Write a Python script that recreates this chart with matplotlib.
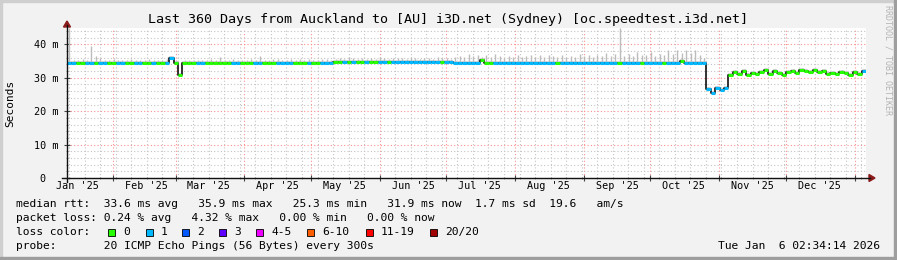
import datetime as dt
import matplotlib
matplotlib.use("Agg")
import matplotlib.pyplot as plt
import matplotlib.dates as mdates
from matplotlib.patches import Rectangle, Polygon
from matplotlib.lines import Line2D
from matplotlib.ticker import MultipleLocator

W, H = 897, 260
BG = "#f2f2f2"
MONO = "DejaVu Sans Mono"

title = "Last 360 Days from Auckland to [AU] i3D.net (Sydney) [oc.speedtest.i3d.net]"
end = dt.datetime(2026, 1, 6, 2, 34, 14)
start = end - dt.timedelta(days=360)
step_days = 2  # one sample every 2 days

# median rtt (ms), one value per sample
median_ms = [
    34.5, 34.5, 34.5, 34.5, 34.5, 34.5, 34.5, 34.5, 34.5, 34.5, 34.5, 34.5, 34.5, 34.5, 34.5,
    34.5, 34.5, 34.5, 34.5, 34.5, 34.5, 34.5, 34.5, 36.0, 34.5, 30.8, 34.5, 34.5, 34.5, 34.5,
    34.5, 34.5, 34.5, 34.5, 34.5, 34.5, 34.5, 34.5, 34.5, 34.5, 34.5, 34.5, 34.5, 34.5, 34.5,
    34.5, 34.5, 34.5, 34.5, 34.5, 34.5, 34.5, 34.5, 34.5, 34.5, 34.5, 34.5, 34.5, 34.5, 34.5,
    34.8, 34.8, 34.8, 34.8, 34.8, 34.8, 34.8, 34.8, 34.8, 34.8, 34.8, 34.8, 34.8, 34.8, 34.8,
    34.8, 34.8, 34.8, 34.8, 34.8, 34.8, 34.8, 34.8, 34.8, 34.8, 34.8, 34.8, 34.5, 34.5, 34.5,
    34.5, 34.5, 34.5, 35.4, 34.5, 34.5, 34.5, 34.5, 34.5, 34.5, 34.5, 34.5, 34.5, 34.5, 34.5,
    34.5, 34.5, 34.5, 34.5, 34.5, 34.5, 34.5, 34.5, 34.5, 34.5, 34.5, 34.5, 34.5, 34.5, 34.5,
    34.5, 34.5, 34.5, 34.5, 34.5, 34.5, 34.5, 34.5, 34.5, 34.5, 34.5, 34.5, 34.5, 34.5, 34.5,
    34.5, 34.5, 34.5, 35.0, 34.5, 34.5, 34.5, 34.5, 34.5, 26.6, 25.4, 26.9, 26.2, 27.0, 30.8,
    31.6, 31.2, 31.9, 30.9, 31.5, 31.1, 31.7, 32.3, 31.0, 32.1, 31.4, 30.8, 31.6, 31.9, 31.3,
    32.2, 32.0, 31.7, 32.3, 31.6, 31.9, 31.2, 31.5, 31.0, 31.7, 31.3, 30.9, 31.6, 31.2, 31.9,
]

# lost pings per sample (0 = green, 1 = light blue)
loss = (
    "110011011001100"
    "110010011000001"
    "100000011000110"
    "001111000100111"
    "001010010011011"
    "111111111011111"
    "111000111111111"
    "111110111111111"
    "111101111011110"
    "111011111111110"
    "000000000000000"
    "000000000000001"
)

# top of the smoke (slowest ping) per sample, ms
smoke_top = [
    44.8, 35.3, 35.3, 35.5, 35.3, 39.5, 36.4, 36.0, 35.4, 35.3, 35.6, 35.3, 35.4, 35.3, 35.5,
    35.3, 35.4, 35.3, 35.6, 35.3, 35.4, 35.3, 35.5, 36.6, 35.4, 31.4, 35.3, 35.3, 35.4, 35.3,
    35.4, 35.3, 35.5, 35.3, 36.3, 35.4, 35.3, 35.5, 35.3, 35.4, 35.3, 35.5, 35.3, 36.4, 35.4,
    35.3, 35.5, 35.6, 35.4, 35.3, 35.6, 35.4, 35.5, 35.3, 35.6, 35.4, 35.3, 35.7, 35.5, 35.4,
    35.7, 35.9, 35.6, 36.1, 35.8, 35.6, 36.0, 35.7, 35.9, 35.6, 36.2, 35.8, 35.7, 36.0, 35.8,
    35.9, 35.7, 36.1, 35.8, 35.6, 36.0, 35.9, 35.7, 36.1, 35.8, 36.0, 35.7, 36.2, 36.5, 36.3,
    37.0, 36.4, 36.9, 36.3, 36.8, 36.2, 37.1, 36.5, 36.0, 36.6, 36.2, 36.8, 36.1, 36.5, 36.9,
    36.3, 36.7, 36.1, 36.9, 36.4, 36.2, 36.8, 36.3, 36.6, 36.1, 37.0, 36.4, 36.7, 36.2, 36.9,
    36.5, 37.3, 36.4, 37.0, 44.8, 36.6, 37.2, 36.5, 37.6, 36.8, 36.7, 37.7, 36.6, 37.2, 36.9,
    38.2, 37.0, 38.2, 37.5, 38.3, 37.4, 38.2, 36.9, 36.0, 27.2, 26.0, 27.5, 26.8, 27.6, 31.4,
    32.2, 31.8, 32.5, 31.5, 32.1, 31.7, 32.3, 32.9, 31.6, 32.7, 32.0, 31.4, 32.2, 32.5, 31.9,
    32.8, 32.6, 32.3, 32.9, 32.2, 32.5, 31.8, 32.1, 31.6, 32.3, 31.9, 31.5, 32.2, 31.8, 32.5,
]

y_ticks = [0, 10, 20, 30, 40]
y_tick_labels = ["0  ", "10 m", "20 m", "30 m", "40 m"]
month_labels = ["Jan '25", "Feb '25", "Mar '25", "Apr '25", "May '25", "Jun '25",
                "Jul '25", "Aug '25", "Sep '25", "Oct '25", "Nov '25", "Dec '25"]

loss_classes = ["0", "1", "2", "3", "4-5", "6-10", "11-19", "20/20"]
loss_colors = ["#26ff00", "#00b8ff", "#0059ff", "#5e00ff", "#ed00ff", "#ff5e00", "#ff0000", "#a10000"]
loss_box_x = [108, 146, 182, 219, 256, 307, 366, 430]

legend_lines = [
    "median rtt:  33.6 ms avg   35.9 ms max   25.3 ms min   31.9 ms now  1.7 ms sd  19.6   am/s",
    "packet loss: 0.24 % avg   4.32 % max   0.00 % min   0.00 % now",
    "loss color:",
    "probe:       20 ICMP Echo Pings (56 Bytes) every 300s",
]
stamp = "Tue Jan  6 02:34:14 2026"


def fx(x):
    return x / W


def fy(y):
    return 1 - y / H


# plot area in pixels
L, R, T, B = 67, 866, 28, 178

fig = plt.figure(figsize=(W / 100, H / 100), dpi=100, facecolor=BG)
ax = fig.add_axes([fx(L), fy(B), (R - L) / W, (B - T) / H])
ax.set_facecolor("white")
ax.set_xlim(start, end)
ax.set_ylim(0, 44.9)
for s in ax.spines.values():
    s.set_visible(False)

ax.xaxis.set_major_locator(mdates.MonthLocator())
ax.xaxis.set_minor_locator(mdates.WeekdayLocator(byweekday=mdates.SU))
ax.set_yticks(y_ticks)
ax.set_yticklabels(y_tick_labels, fontfamily=MONO, fontsize=7.3)
ax.yaxis.set_minor_locator(MultipleLocator(2))
ax.grid(which="minor", color="#c4c4c4", linestyle=(0, (1, 2)), lw=0.8)
ax.grid(which="major", color="#ff8e8e", linestyle=(0, (1, 2)), lw=0.8)
ax.set_axisbelow(True)
ax.tick_params(axis="x", which="both", labelbottom=False)
ax.tick_params(which="major", length=4, direction="inout", width=0.8, color="#444444", pad=4)
ax.tick_params(which="minor", length=2, direction="inout", width=0.6, color="#888888")

n = len(median_ms)
t_left = [start + dt.timedelta(days=step_days * i) for i in range(n)]
t_right = [start + dt.timedelta(days=step_days * (i + 1)) for i in range(n)]
t_mid = [start + dt.timedelta(days=step_days * (i + 0.5)) for i in range(n)]

# smoke
ax.vlines(t_mid, median_ms, smoke_top, color="#bcbcbc", lw=1)
ax.fill_between(t_left + [t_right[-1]], median_ms + [median_ms[-1]],
                [m + 0.6 for m in median_ms] + [median_ms[-1] + 0.6],
                step="post", color="#d8d8d8", lw=0)

# median: black connecting line, then loss-coloured segments
ax.step(t_left + [t_right[-1]], median_ms + [median_ms[-1]], where="post",
        color="#111111", lw=1.2)
seg_colors = [loss_colors[int(c)] for c in loss]
ax.hlines(median_ms, t_left, t_right, colors=seg_colors, lw=2.2)

# month labels centred mid-month
for m, lab in enumerate(month_labels):
    ax.text(dt.datetime(2025, m + 1, 16), -8 / (B - T), lab, transform=ax.get_xaxis_transform(),
            ha="center", va="center", fontfamily=MONO, fontsize=7.3)

# axes lines and arrows
fig.add_artist(Line2D([fx(L), fx(L)], [fy(182), fy(25)], color="#111111", lw=1))
fig.add_artist(Line2D([fx(62), fx(870)], [fy(B), fy(B)], color="#111111", lw=1))
arrow_col = "#8b1a1a"
fig.add_artist(Polygon([(fx(63.5), fy(27)), (fx(70.5), fy(27)), (fx(67), fy(21))],
                       closed=True, color=arrow_col, transform=fig.transFigure))
fig.add_artist(Polygon([(fx(869), fy(174.5)), (fx(869), fy(181.5)), (fx(875), fy(178))],
                       closed=True, color=arrow_col, transform=fig.transFigure))

# texts
fig.text(fx(448), fy(19), title, ha="center", va="center", fontfamily=MONO, fontsize=9.6)
fig.text(fx(10), fy(103), "Seconds", rotation=90, ha="center", va="center",
         fontfamily=MONO, fontsize=8)
fig.text(fx(888), fy(60), "RRDTOOL / TOBI OETIKER", rotation=270, ha="center", va="center",
         fontfamily=MONO, fontsize=6, color="#b4b4b4")

for k, line in enumerate(legend_lines):
    fig.text(fx(16), fy(204 + 14 * k), line, ha="left", va="center", fontfamily=MONO, fontsize=8.1)

for bx, col, lab in zip(loss_box_x, loss_colors, loss_classes):
    fig.add_artist(Rectangle((fx(bx), fy(236)), 7 / W, 7 / H, facecolor=col, edgecolor="black",
                             lw=0.6, transform=fig.transFigure))
    fig.text(fx(bx + 15), fy(232), lab, ha="left", va="center", fontfamily=MONO, fontsize=8.1)

fig.text(fx(880), fy(246), stamp, ha="right", va="center", fontfamily=MONO, fontsize=8.1)

# outer shaded border
fig.add_artist(Rectangle((0, 0), 2 / W, 1, color="#cfcfcf", transform=fig.transFigure))
fig.add_artist(Rectangle((0, 1 - 2 / H), 1, 2 / H, color="#cfcfcf", transform=fig.transFigure))
fig.add_artist(Rectangle((1 - 3 / W, 0), 3 / W, 1, color="#9e9e9e", transform=fig.transFigure))
fig.add_artist(Rectangle((0, 0), 1, 3 / H, color="#9e9e9e", transform=fig.transFigure))

fig.savefig("out.png", dpi=100, facecolor=BG)
